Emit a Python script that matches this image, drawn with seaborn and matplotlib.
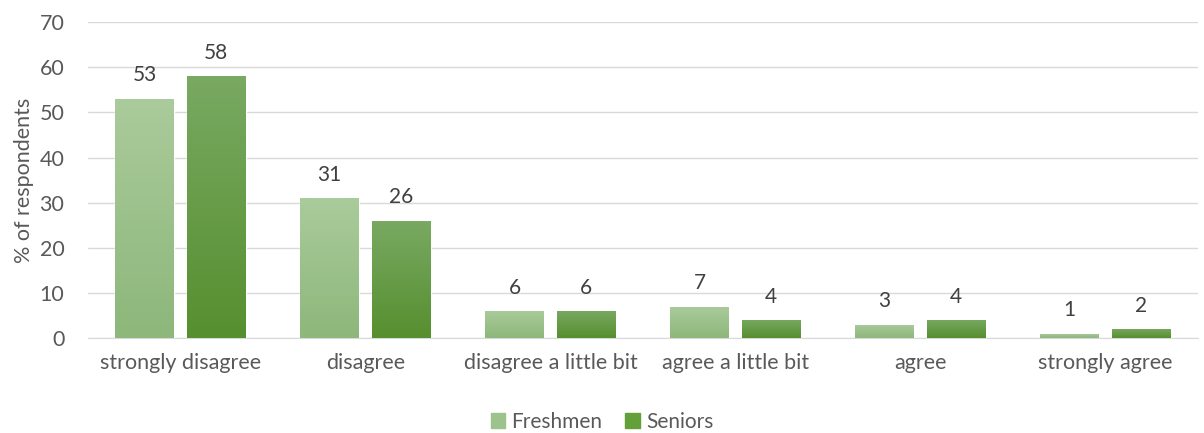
import numpy as np
import pandas as pd
import matplotlib.pyplot as plt
import seaborn as sns
from matplotlib.colors import LinearSegmentedColormap
from matplotlib.patches import Rectangle

# data
categories = ['strongly disagree', 'disagree', 'disagree a little bit',
              'agree a little bit', 'agree', 'strongly agree']
freshmen = [53, 31, 6, 7, 3, 1]
seniors = [58, 26, 6, 4, 4, 2]
groups = ['Freshmen', 'Seniors']

df = pd.DataFrame({
    'answer': categories * 2,
    'pct': freshmen + seniors,
    'group': ['Freshmen'] * len(categories) + ['Seniors'] * len(categories),
})

# top / bottom gradient colours per series
grad = {'Freshmen': ('#AACB9B', '#8DB77B'), 'Seniors': ('#79A962', '#568F2F')}
flat = {'Freshmen': '#9DC38C', 'Seniors': '#63A03A'}

sns.set_style('white')
plt.rcParams['font.family'] = ['Lato', 'DejaVu Sans']

fig = plt.figure(figsize=(12.04, 4.33), dpi=100)
ax = fig.add_axes([0.073, 0.219, 0.922, 0.730])

sns.barplot(data=df, x='answer', y='pct', hue='group', hue_order=groups,
            palette=flat, width=0.773, gap=0.175, ax=ax, legend=False,
            zorder=3)

ax.grid(axis='y', color='#D9D9D9', lw=1, zorder=0)
ax.set_axisbelow(True)
for s in ['top', 'right', 'left']:
    ax.spines[s].set_visible(False)
ax.spines['bottom'].set_color('#D9D9D9')
ax.spines['bottom'].set_zorder(2)

# gradient fill clipped to each bar, plus value labels
n = len(categories)
for i, p in enumerate(ax.patches[:2 * n]):
    g = groups[i // n]
    x0, w, h = p.get_x(), p.get_width(), p.get_height()
    # soft shadow
    sh = Rectangle((x0 + 0.006, -0.25), w, h, color='#000000', alpha=0.12,
                   zorder=2, lw=0)
    ax.add_patch(sh)
    cmap = LinearSegmentedColormap.from_list(g, [grad[g][1], grad[g][0]])
    img = ax.imshow(np.linspace(0, 1, 100).reshape(-1, 1), cmap=cmap,
                    extent=[x0, x0 + w, 0, h], origin='lower', aspect='auto',
                    zorder=4)
    img.set_clip_path(p)
    ax.text(x0 + w / 2, h + 3.0, f'{h:.0f}', ha='center', va='bottom',
            fontsize=15, color='#404040', zorder=5)

ax.set_aspect('auto')
ax.set_xlim(-0.5, n - 0.5)
ax.set_ylim(0, 70)
ax.set_yticks(range(0, 71, 10))

ax.set_xlabel('')
ax.set_ylabel('% of respondents', fontsize=15.5, color='#595959', labelpad=4)
ax.tick_params(axis='both', length=0, labelsize=15.5, colors='#595959')
ax.tick_params(axis='x', pad=11)
ax.tick_params(axis='y', pad=17)

handles = [Rectangle((0, 0), 1, 1, color=flat[g]) for g in groups]
fig.legend(handles, groups, loc='center', bbox_to_anchor=(0.5, 0.026),
           ncol=2, frameon=False, fontsize=15, handlelength=0.7,
           handleheight=0.7, handletextpad=0.3, columnspacing=1.1,
           labelcolor='#595959')

fig.savefig('out.png', dpi=100)
